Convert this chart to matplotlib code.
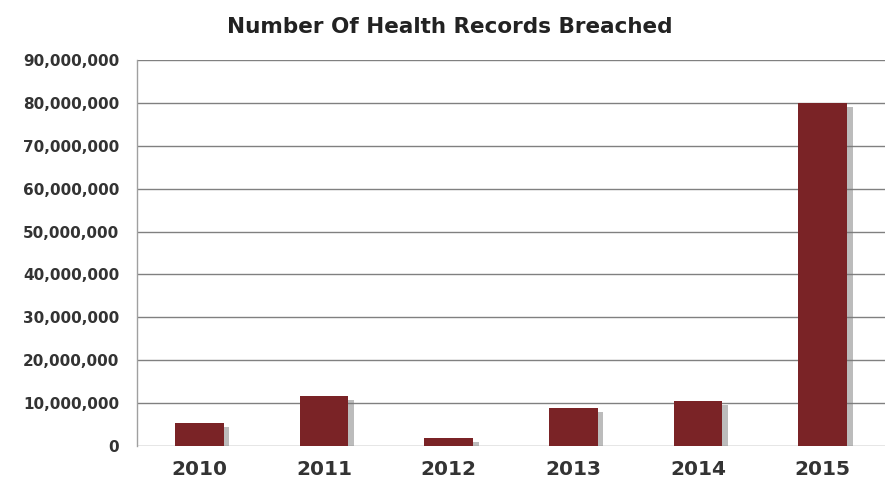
import matplotlib.pyplot as plt
import matplotlib.patheffects as pe
from matplotlib.ticker import FuncFormatter, MultipleLocator

years = ['2010', '2011', '2012', '2013', '2014', '2015']
records = [5300000, 11700000, 1800000, 8800000, 10600000, 80000000]

plt.rcParams['font.family'] = ['DejaVu Sans']

fig = plt.figure(figsize=(8.85, 4.82), dpi=100)
ax = fig.add_axes([0.155, 0.0747, 0.845, 0.8008])

# soft grey drop shadow to the right of each bar
shadow = [pe.SimplePatchShadow(offset=(4, -3), shadow_rgbFace='#7a7a7a', alpha=0.5),
          pe.Normal()]
bars = ax.bar(range(len(years)), records, width=0.39, color='#7a2326',
              zorder=3)
for b in bars:
    b.set_path_effects(shadow)

ax.set_xlim(-0.5, 5.5)
ax.set_ylim(0, 90000000)
ax.yaxis.set_major_locator(MultipleLocator(10000000))
ax.yaxis.set_major_formatter(FuncFormatter(lambda v, p: f'{int(v):,}'))
ax.set_xticks(range(len(years)))
ax.set_xticklabels(years)

ax.grid(axis='y', color='#808080', linewidth=1.0, zorder=0)
for s in ['top', 'right', 'bottom']:
    ax.spines[s].set_visible(False)
ax.spines['left'].set_color('#a0a0a0')
ax.spines['left'].set_linewidth(1.0)

ax.tick_params(axis='y', length=0, pad=13, labelsize=11, labelcolor='#333333')
ax.tick_params(axis='x', length=0, pad=10, labelsize=14.5, labelcolor='#333333')
for lbl in ax.get_yticklabels() + ax.get_xticklabels():
    lbl.set_fontweight('bold')

fig.text(0.508, 0.944, 'Number Of Health Records Breached', ha='center', va='center',
         fontsize=15.5, fontweight='bold', color='#222222')

fig.savefig('out.png', dpi=100)
plt.close(fig)
